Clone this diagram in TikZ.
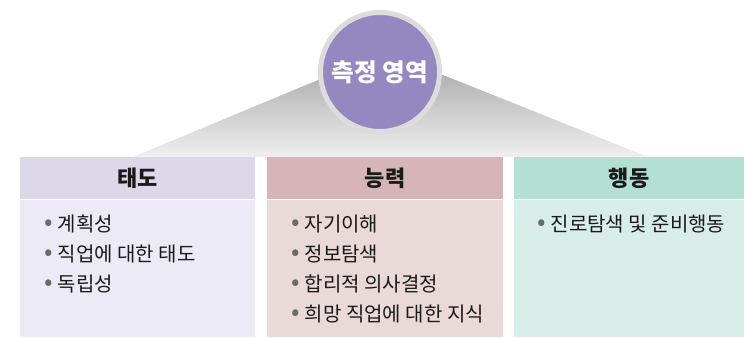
\documentclass[tikz,border=0pt]{standalone}
\usepackage{fontspec}
\setmainfont{Noto Sans CJK KR}
\usetikzlibrary{positioning}

\definecolor{ringGray}{HTML}{DCDCDC}
\definecolor{areaPurple}{HTML}{9488C0}
\definecolor{textDark}{HTML}{1A1A1A}
\definecolor{dotGray}{HTML}{6A6A6A}
\definecolor{attHead}{HTML}{DCD8EA}
\definecolor{attBody}{HTML}{ECEAF4}
\definecolor{abiHead}{HTML}{D5B5B7}
\definecolor{abiBody}{HTML}{EAD9D9}
\definecolor{actHead}{HTML}{B3DFD4}
\definecolor{actBody}{HTML}{D9EDE8}

\newcommand{\itm}[1]{{\color{dotGray}\raisebox{0.05em}{\scalebox{1.25}{•}}}\hspace{0.25em}#1}

\begin{document}
\begin{tikzpicture}[x=0.75pt, y=0.75pt,
		head/.style={rectangle, draw=none, minimum height=31.5pt, inner sep=0pt,
			text=textDark, font=\fontsize{16.5}{18}\selectfont\bfseries},
		body/.style={rectangle, draw=none, minimum height=102.75pt, inner sep=0pt},
		items/.style={anchor=north west, align=left, inner sep=0pt, text=textDark,
			font=\fontsize{15}{22.5}\selectfont},
		area/.style={circle, fill=areaPurple, draw=ringGray, line width=3.75pt,
			minimum size=89.25pt, inner sep=0pt, text=white,
			font=\fontsize{18.5}{20}\selectfont\bfseries}
]
\useasboundingbox (0,0) rectangle (745,337);

% gray wedge behind the circle
\shade[top color=gray!60, bottom color=gray!12]
	(133,180) -- (318,257) -- (443,262) -- (648,180) -- cycle;

\node [area] (Area) at (380,265) {측정 영역};

% attitude
\node [head, fill=attHead, minimum width=176.25pt] (AttHead) at (137.5,159) {태도};
\node [body, fill=attBody, minimum width=176.25pt, below=0pt of AttHead] (AttBody) {};
\node [items] (AttItems) at (44,122) {\itm{계획성}\\ \itm{직업에 대한 태도}\\ \itm{독립성}};

% ability
\node [head, fill=abiHead, minimum width=177pt] (AbiHead) at (385,159) {능력};
\node [body, fill=abiBody, minimum width=177pt, below=0pt of AbiHead] (AbiBody) {};
\node [items] (AbiItems) at (291,122) {\itm{자기이해}\\ \itm{정보탐색}\\ \itm{합리적 의사결정}\\ \itm{희망 직업에 대한 지식}};

% action
\node [head, fill=actHead, minimum width=172.5pt] (ActHead) at (629,159) {행동};
\node [body, fill=actBody, minimum width=172.5pt, below=0pt of ActHead] (ActBody) {};
\node [items] (ActItems) at (537,122) {\itm{진로탐색 및 준비행동}};

\end{tikzpicture}
\end{document}
